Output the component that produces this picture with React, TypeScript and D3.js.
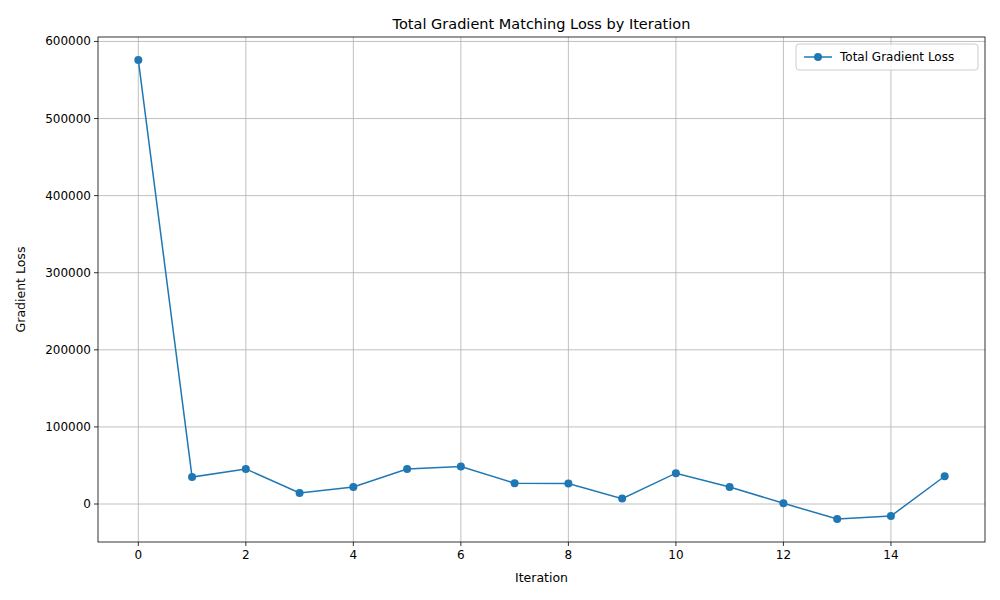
import { useMemo } from 'react'
import * as d3 from 'd3'

const iterations = [0, 1, 2, 3, 4, 5, 6, 7, 8, 9, 10, 11, 12, 13, 14, 15]
const lossValues = [576000, 35000, 45500, 14300, 22000, 45500, 48500, 27000, 26500, 7000, 40000, 22000, 1000, -19500, -15600, 36000]
const xTicks = [0, 2, 4, 6, 8, 10, 12, 14]
const yTicks = [0, 100000, 200000, 300000, 400000, 500000, 600000]

const W = 1000, H = 600
const m = { left: 98, right: 985, top: 37, bottom: 542 }
const color = '#1f77b4'
const font = 'DejaVu Sans, sans-serif'

export default function App() {
  const x = useMemo(() => d3.scaleLinear().domain([-0.75, 15.75]).range([m.left, m.right]), [])
  const y = useMemo(() => {
    const [lo, hi] = d3.extent(lossValues) as [number, number]
    const pad = (hi - lo) * 0.05
    return d3.scaleLinear().domain([lo - pad, hi + pad]).range([m.bottom, m.top])
  }, [])
  const line = d3.line<number>().x((_, i) => x(iterations[i])).y(d => y(d))

  return (
    <svg width={W} height={H} style={{ position: 'absolute', left: 0, top: 0, background: '#fff' }} fontFamily={font}>
      {xTicks.map(t => (
        <g key={'x' + t}>
          <line x1={x(t)} x2={x(t)} y1={m.top} y2={m.bottom} stroke="#b0b0b0" strokeWidth={0.8} />
          <line x1={x(t)} x2={x(t)} y1={m.bottom} y2={m.bottom + 4} stroke="#000" strokeWidth={0.8} />
          <text x={x(t)} y={m.bottom + 17} textAnchor="middle" fontSize={12}>{t}</text>
        </g>
      ))}
      {yTicks.map(t => (
        <g key={'y' + t}>
          <line x1={m.left} x2={m.right} y1={y(t)} y2={y(t)} stroke="#b0b0b0" strokeWidth={0.8} />
          <line x1={m.left - 4} x2={m.left} y1={y(t)} y2={y(t)} stroke="#000" strokeWidth={0.8} />
          <text x={m.left - 7} y={y(t) + 4} textAnchor="end" fontSize={12}>{t}</text>
        </g>
      ))}
      <path d={line(lossValues) ?? ''} fill="none" stroke={color} strokeWidth={1.5} />
      {lossValues.map((v, i) => (
        <circle key={i} cx={x(iterations[i])} cy={y(v)} r={4} fill={color} />
      ))}
      <rect x={m.left} y={m.top} width={m.right - m.left} height={m.bottom - m.top} fill="none" stroke="#000" strokeWidth={0.8} />
      <text x={(m.left + m.right) / 2} y={m.top - 8} textAnchor="middle" fontSize={14.5}>Total Gradient Matching Loss by Iteration</text>
      <text x={(m.left + m.right) / 2} y={582} textAnchor="middle" fontSize={12.5}>Iteration</text>
      <text transform={`translate(25,${(m.top + m.bottom) / 2}) rotate(-90)`} textAnchor="middle" fontSize={12.5}>Gradient Loss</text>
      <g transform="translate(796,44)">
        <rect width={182} height={26} rx={3} fill="#fff" fillOpacity={0.8} stroke="#ccc" />
        <line x1={8} x2={36} y1={13} y2={13} stroke={color} strokeWidth={1.5} />
        <circle cx={22} cy={13} r={4} fill={color} />
        <text x={44} y={17} fontSize={12}>Total Gradient Loss</text>
      </g>
    </svg>
  )
}
